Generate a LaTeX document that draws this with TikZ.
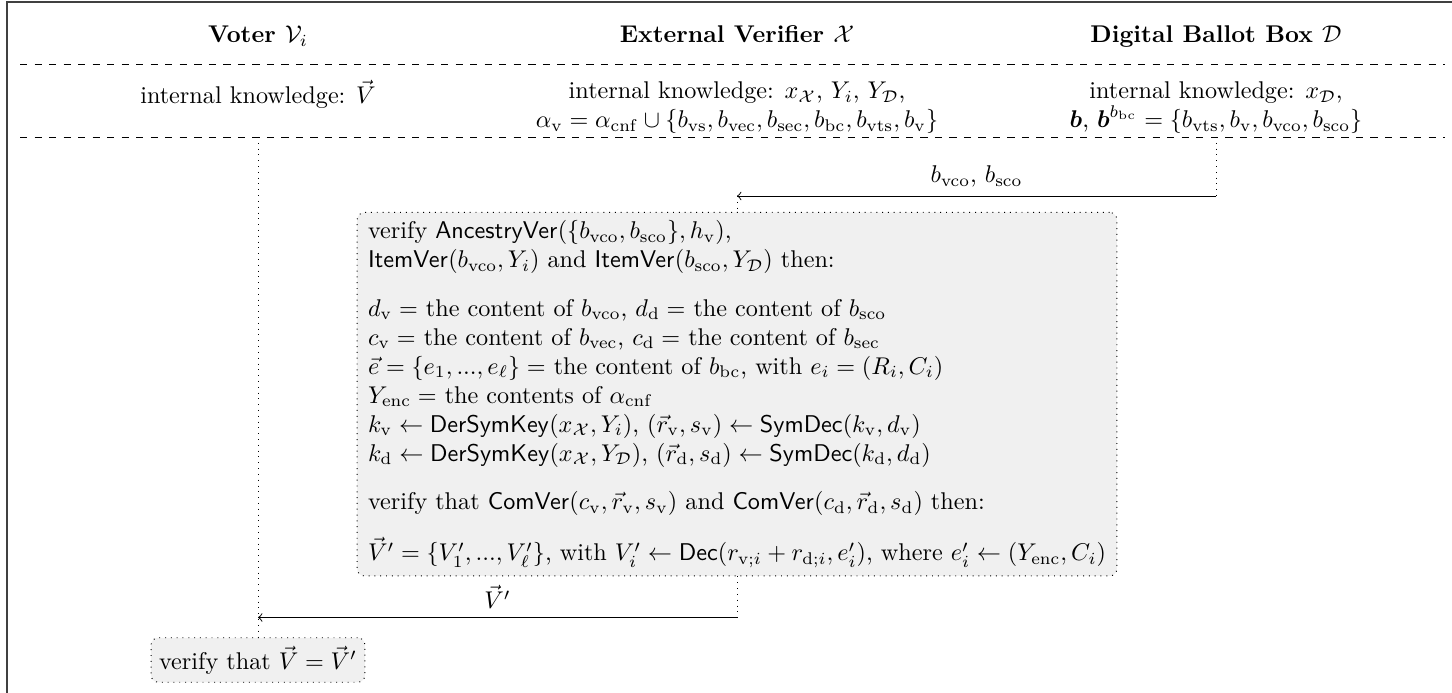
\documentclass[tikz,border=0pt]{standalone}
\usepackage{amsmath,amssymb}
\usetikzlibrary{arrows,calc}
\newcommand{\rmsub}[1]{_{\mathrm{#1}}}
\tikzset{
  party/.style={font=\bfseries, anchor=base, inner sep=0pt},
  know/.style={align=center, inner sep=0pt},
  sepline/.style={dashed},
  life/.style={dotted},
  msg/.style={->},
  procbox/.style={draw, dotted, rounded corners=3pt, fill=black!6, align=left, inner ysep=3.33pt, inner xsep=4.5pt},
  frameline/.style={line width=0.8pt, black!75}
}
\begin{document}
\begin{tikzpicture}[x=0.4132pt, y=-0.4132pt]
\useasboundingbox (0,0) rectangle (1452,693);
% frame
\draw[frameline] (7,693) -- (7,2) -- (1452,2);
% headers
\node[party] (vh) at (258,43) {Voter $\mathcal{V}_i$};
\node[party] (xh) at (737,43) {External Verifier $\mathcal{X}$};
\node[party] (dh) at (1216,43) {Digital Ballot Box $\mathcal{D}$};
\draw[sepline] (20,64) -- (1445,64);
% knowledge
\node[know, anchor=base] (vk) at (258,104) {internal knowledge: $\vec{V}$};
\node[know] (xk) at (737,108) {internal knowledge: $x_{\mathcal{X}}$, $Y_i$, $Y_{\mathcal{D}}$,\\
  $\alpha\rmsub{v} = \alpha\rmsub{cnf} \cup \{b\rmsub{vs}, b\rmsub{vec}, b\rmsub{sec}, b\rmsub{bc}, b\rmsub{vts}, b\rmsub{v}\}$};
\node[know] (dk) at (1216,108) {internal knowledge: $x_{\mathcal{D}}$,\\
  $\boldsymbol{b}$, $\boldsymbol{b}^{b\rmsub{bc}} = \{b\rmsub{vts}, b\rmsub{v}, b\rmsub{vco}, b\rmsub{sco}\}$};
\draw[sepline] (20,137) -- (1445,137);
% lifeline tops
\coordinate (v0) at (258,137);
\coordinate (d0) at (1216,137);
% process box
\node[procbox, anchor=north] (proc) at (737,212) {%
verify $\mathsf{AncestryVer}(\{b\rmsub{vco}, b\rmsub{sco}\}, h\rmsub{v})$,\\
$\mathsf{ItemVer}(b\rmsub{vco}, Y_i)$ and $\mathsf{ItemVer}(b\rmsub{sco}, Y_{\mathcal{D}})$ then:\\[8pt]
$d\rmsub{v} =$ the content of $b\rmsub{vco}$, $d\rmsub{d} =$ the content of $b\rmsub{sco}$\\
$c\rmsub{v} =$ the content of $b\rmsub{vec}$, $c\rmsub{d} =$ the content of $b\rmsub{sec}$\\
$\vec{e} = \{e_1, ..., e_\ell\} =$ the content of $b\rmsub{bc}$, with $e_i = (R_i, C_i)$\\
$Y\rmsub{enc} =$ the contents of $\alpha\rmsub{cnf}$\\
$k\rmsub{v} \leftarrow \mathsf{DerSymKey}(x_{\mathcal{X}}, Y_i)$, $(\vec{r}\rmsub{v}, s\rmsub{v}) \leftarrow \mathsf{SymDec}(k\rmsub{v}, d\rmsub{v})$\\
$k\rmsub{d} \leftarrow \mathsf{DerSymKey}(x_{\mathcal{X}}, Y_{\mathcal{D}})$, $(\vec{r}\rmsub{d}, s\rmsub{d}) \leftarrow \mathsf{SymDec}(k\rmsub{d}, d\rmsub{d})$\\[8pt]
verify that $\mathsf{ComVer}(c\rmsub{v}, \vec{r}\rmsub{v}, s\rmsub{v})$ and $\mathsf{ComVer}(c\rmsub{d}, \vec{r}\rmsub{d}, s\rmsub{d})$ then:\\[8pt]
$\vec{V}' = \{V'_1, ..., V'_\ell\}$, with $V'_i \leftarrow \mathsf{Dec}(r_{\mathrm{v};i} + r_{\mathrm{d};i}, e'_i)$, where $e'_i \leftarrow (Y\rmsub{enc}, C_i)$};
% message 1
\coordinate (d1) at (1216,196);
\coordinate (x1) at (proc.north |- d1);
\draw[life] (d0) -- (d1);
\draw[msg] (d1) -- node[above] (m1) {$b\rmsub{vco}$, $b\rmsub{sco}$} (x1);
\draw[life] (x1) -- (proc.north);
% message 2
\coordinate (x2) at ($(proc.south)+(0,41)$);
\coordinate (v2) at (v0 |- x2);
\draw[life] (proc.south) -- (x2);
\draw[msg] (x2) -- node[above] (m2) {$\vec{V}'$} (v2);
% final check
\node[procbox, inner xsep=3.33pt, anchor=center] (ver) at (258,660) {verify that $\vec{V} = \vec{V}'$};
\draw[life] (v0) -- (ver.north);
\end{tikzpicture}
\end{document}
